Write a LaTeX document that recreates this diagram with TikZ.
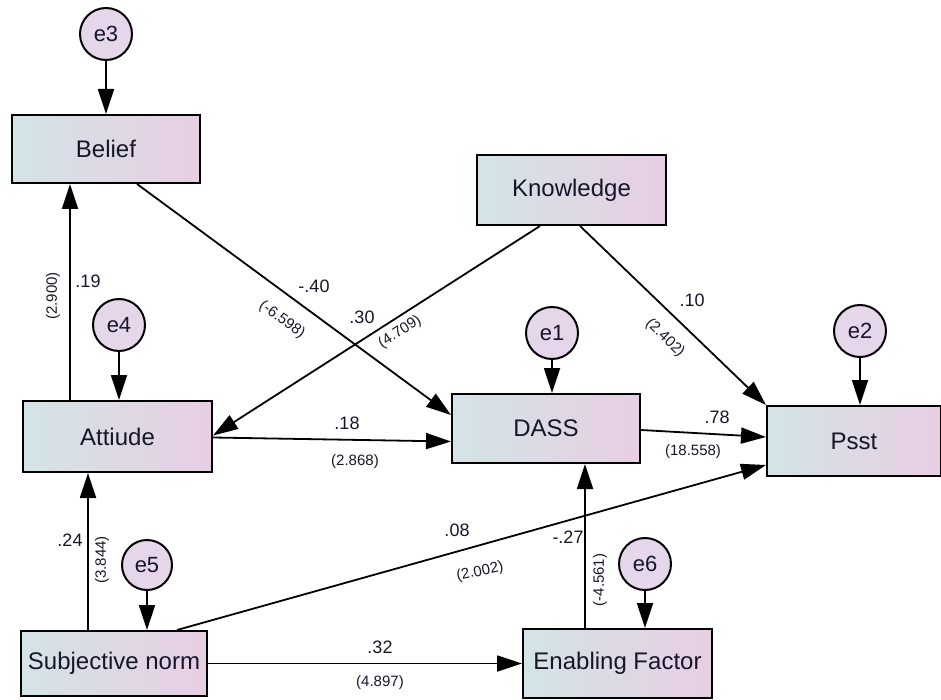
\documentclass[tikz,border=0pt]{standalone}
\usepackage{fontspec}
\setmainfont{Liberation Sans}
\usetikzlibrary{arrows.meta,calc}
\definecolor{boxleft}{HTML}{D3E4E6}
\definecolor{boxright}{HTML}{E8CEE3}
\definecolor{circfill}{HTML}{E6D6EA}
\definecolor{txt}{HTML}{16162A}
\begin{document}
\begin{tikzpicture}[x=1pt,y=-1pt,
  var/.style={draw=black,line width=2pt,left color=boxleft,right color=boxright,
    minimum width=#1,minimum height=69pt,inner sep=0pt,text=txt,
    font=\fontsize{24}{28}\selectfont},
  err/.style={circle,draw=black,line width=2pt,fill=circfill,minimum size=52pt,
    inner sep=0pt,text=txt,font=\fontsize{22}{26}\selectfont},
  path/.style={line width=1.8pt,-{Triangle[length=25pt,width=16pt]}},
  coef/.style={text=txt,font=\fontsize{18}{22}\selectfont,inner sep=0pt},
  tval/.style={text=txt,font=\fontsize{15}{18}\selectfont,inner sep=0pt}]
\useasboundingbox (0,0) rectangle (941,700);

% observed variables
\node[var=188pt,minimum height=68pt] (belief) at (106,149) {Belief};
\node[var=189pt,minimum height=70pt] (know) at (571.5,190) {Knowledge};
\node[var=189pt,minimum height=71pt] (att) at (117.5,436.5) {Attiude};
\node[var=188pt] (dass) at (546,428.5) {DASS};
\node[var=174pt,minimum height=70pt] (psst) at (854,441) {Psst};
\node[var=186pt,minimum height=65pt] (subj) at (114,663.5) {Subjective norm};
\node[var=189pt] (enab) at (617.5,663.5) {Enabling Factor};

% error terms
\node[err] (e3) at (106,34) {e3};
\node[err] (e4) at (119,325) {e4};
\node[err] (e1) at (552,333) {e1};
\node[err] (e2) at (860,331) {e2};
\node[err,minimum size=50pt] (e5) at (147,565) {e5};
\node[err] (e6) at (645,564) {e6};

% error arrows
\draw[path] (e3) -- (e3 |- belief.north);
\draw[path] (e4) -- (e4 |- att.north);
\draw[path] (e1) -- (e1 |- dass.north);
\draw[path] (e2) -- (e2 |- psst.north);
\draw[path] (e5) -- (e5 |- subj.north);
\draw[path] (e6) -- (e6 |- enab.north);

% structural paths
\coordinate (attTop) at ($(att.north)+(-47.5,0)$);
\draw[path] (attTop) -- (attTop |- belief.south);
\draw[path] ($(belief.south)+(31,0)$) -- ($(dass.west)+(0,-13.5)$);
\draw[path] ($(know.south)+(-31.5,0)$) -- ($(att.east)+(0,-1)$);
\draw[path] ($(know.south)+(8.5,0)$) -- (psst.north west);
\draw[path] ($(att.east)+(0,1)$) -- ($(dass.west)+(0,13)$);
\draw[path] ($(dass.east)+(0,1.5)$) -- ($(psst.west)+(0,-4)$);
\coordinate (subjTop) at ($(subj.north)+(-26,0)$);
\draw[path] (subjTop) -- (subjTop |- att.south);
\draw[path] ($(subj.north)+(63,0)$) -- ($(psst.west)+(0,24)$);
\draw[path] (subj.east) -- (enab.west);
\coordinate (enabTop) at ($(enab.north)+(-32.5,0)$);
\draw[path] (enabTop) -- (enabTop |- dass.south);

% labels
\node[coef] (l1) at (88,281) {.19};
\node[tval,rotate=90] (t1) at (53,296) {(2.900)};
\node[coef] (l2) at (314,286) {-.40};
\node[tval,rotate=-36] (t2) at (282,320) {(-6.598)};
\node[coef] (l3) at (362,317) {.30};
\node[tval,rotate=33] (t3) at (400,332) {(4.709)};
\node[coef] (l4) at (347,423) {.18};
\node[tval] (t4) at (355,462) {(2.868)};
\node[coef] (l5) at (692,300) {.10};
\node[tval,rotate=-44] (t5) at (665,338) {(2.402)};
\node[coef] (l6) at (717,417) {.78};
\node[tval] (t6) at (693,452) {(18.558)};
\node[coef] (l7) at (70,540) {.24};
\node[tval,rotate=90] (t7) at (102,560) {(3.844)};
\node[coef] (l8) at (457,530) {.08};
\node[tval,rotate=12] (t8) at (480,572) {(2.002)};
\node[coef] (l9) at (568,537) {-.27};
\node[tval,rotate=90] (t9) at (600,580) {(-4.561)};
\node[coef] (l10) at (380,647) {.32};
\node[tval] (t10) at (380,683) {(4.897)};
\end{tikzpicture}
\end{document}
